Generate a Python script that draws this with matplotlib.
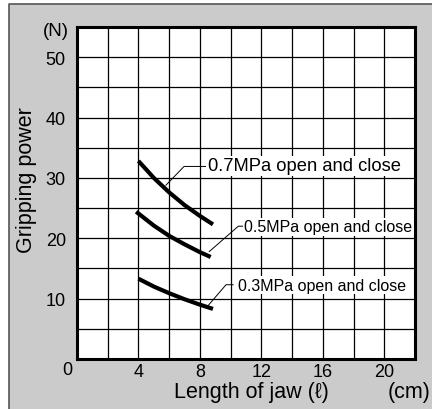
import numpy as np
import matplotlib
matplotlib.use("Agg")
import matplotlib.pyplot as plt
from matplotlib.patches import Rectangle
from matplotlib.lines import Line2D

plt.rcParams['font.family'] = ['Liberation Sans', 'DejaVu Sans']

# jaw length (cm) and gripping power (N)
jaw_07 = [4.0, 5.0, 6.0, 7.0, 8.0, 8.85]
force_07 = [32.8, 30.0, 27.6, 25.5, 23.7, 22.3]

jaw_05 = [3.85, 5.0, 6.0, 7.0, 8.0, 8.7]
force_05 = [24.4, 22.1, 20.4, 19.0, 17.7, 16.9]

jaw_03 = [4.0, 5.0, 6.0, 7.0, 8.0, 8.85]
force_03 = [13.3, 12.0, 10.9, 9.9, 9.0, 8.3]

labels = ["0.7MPa open and close", "0.5MPa open and close", "0.3MPa open and close"]

x_ticks = [0, 2, 4, 6, 8, 10, 12, 14, 16, 18, 20, 22]
x_ticklabels = ["", "", "4", "", "8", "", "12", "", "16", "", "20", ""]
y_ticks = [0, 5, 10, 15, 20, 25, 30, 35, 40, 45, 50, 55]
y_ticklabels = ["", "", "10", "", "20", "", "30", "", "40", "", "50", ""]

W, H = 432, 410
fig = plt.figure(figsize=(W / 100, H / 100), dpi=100)
fig.patch.set_facecolor('white')
# grey panel with a thin frame on top and left
fig.patches.append(Rectangle((9 / W, 0), 1, 1 - 5 / H, transform=fig.transFigure,
                             facecolor='#cbcbcb', edgecolor='none', zorder=-10))
fig.lines.append(Line2D([9 / W, 9 / W, 1], [0, 1 - 5 / H, 1 - 5 / H], transform=fig.transFigure,
                        color='#555555', lw=1.2))

ax = fig.add_axes([77 / W, 1 - 360 / H, (415 - 77) / W, (360 - 28) / H])
ax.set_facecolor('white')
ax.set_xlim(0, 22)
ax.set_ylim(0, 55)
ax.set_xticks(x_ticks)
ax.set_xticklabels(x_ticklabels, fontsize=13)
ax.set_yticks(y_ticks)
ax.set_yticklabels(y_ticklabels, fontsize=13)
ax.tick_params(length=0)
ax.tick_params(axis='x', pad=3)
ax.tick_params(axis='y', pad=8)
ax.grid(True, color='black', lw=0.9)
ax.set_axisbelow(True)
for s in ax.spines.values():
    s.set_linewidth(2.2)
    s.set_color('black')
    s.set_zorder(5)

for xs, ys in [(jaw_07, force_07), (jaw_05, force_05), (jaw_03, force_03)]:
    ax.plot(xs, ys, color='black', lw=3.0, solid_capstyle='butt',
            solid_joinstyle='round', zorder=3)

# leader lines and labels
leaders = [
    ([5.79, 6.97, 8.46], [28.8, 31.9, 31.9], (8.5, 32.0), 13.2),
    ([8.61, 10.5, 10.83], [17.8, 22.0, 22.0], (10.9, 21.9), 11.5),
    ([8.55, 9.7, 10.16], [8.9, 12.3, 12.3], (10.5, 12.2), 11.5),
]
for (lx, ly, pos, fs), lab in zip(leaders, labels):
    ax.plot(lx, ly, color='black', lw=0.7, zorder=4)
    ax.text(pos[0], pos[1], lab, fontsize=fs, ha='left', va='center', zorder=4,
            bbox=dict(facecolor='white', edgecolor='none', pad=1.2))

ax.text(-0.62, -1.8, "0", fontsize=13, ha='center', va='center', clip_on=False)

fig.text(56 / W, 1 - 32 / H, "(N)", fontsize=13.5, ha='center', va='center')
fig.text(409 / W, 1 - 393 / H, "(cm)", fontsize=15.5, ha='center', va='center')
fig.text(251 / W, 1 - 393 / H, "Length of jaw (\u2113)", fontsize=15.5, ha='center', va='center')
fig.text(27 / W, 1 - 180 / H, "Gripping power", fontsize=15.5, ha='center', va='center', rotation=90)

fig.savefig("out.png", dpi=100)
